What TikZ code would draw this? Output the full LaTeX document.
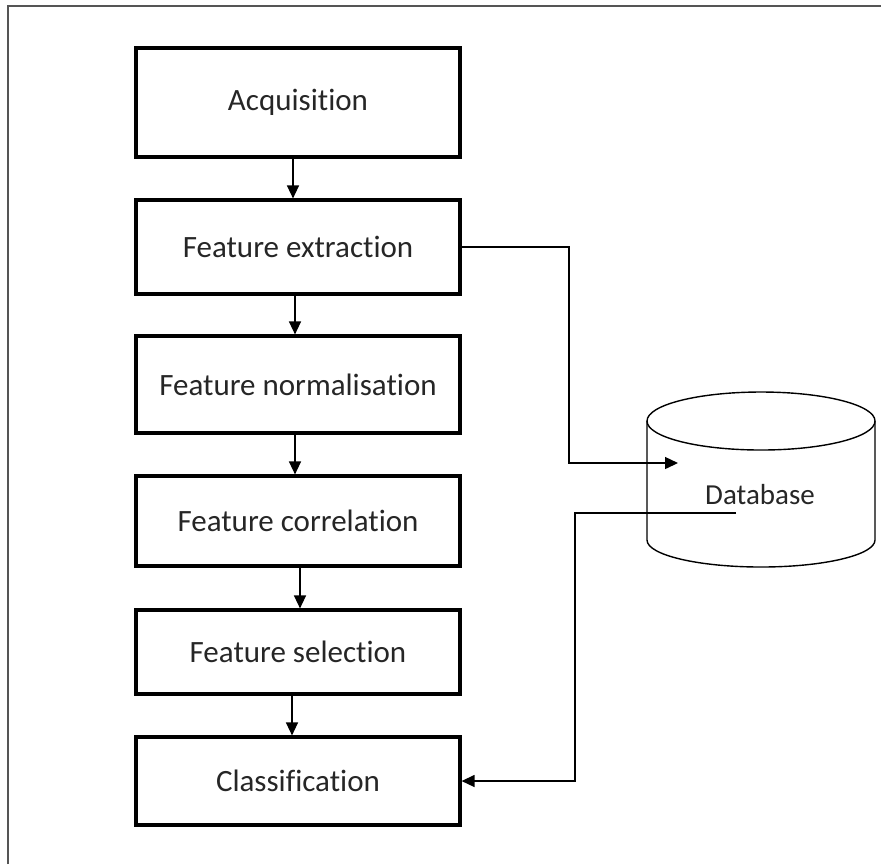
\documentclass[tikz,border=0pt]{standalone}
\usepackage{fontspec}
\setmainfont{Carlito}[Ligatures=NoCommon]
\usetikzlibrary{arrows.meta}
\definecolor{txt}{HTML}{262626}
\definecolor{framegray}{HTML}{555555}
\tikzset{
  stagebox/.style={draw=black, line width=1.6pt, minimum width=162pt, inner sep=0pt, font=\fontsize{15.5}{18}\selectfont, text=txt},
  stagetext/.style={yshift=-1.5pt},
  arr/.style={line width=0.7pt, -{Triangle[length=6.5pt,width=6pt]}},
  thin line/.style={line width=0.7pt}
}
\begin{document}
\begin{tikzpicture}[x=0.5pt,y=-0.5pt]
\useasboundingbox (0,0) rectangle (881,864);
% frame
\draw[framegray, line width=1pt] (8,864) -- (8,6) -- (881,6);
% stages
\node[stagebox, minimum height=54.5pt] (acq) at (298,102.5) {\raisebox{-1.5pt}{Acquisition}};
\node[stagebox, minimum height=47pt] (ext) at (298,247) {\raisebox{-1.5pt}{Feature extraction}};
\node[stagebox, minimum height=48.5pt] (nrm) at (298,384.5) {\raisebox{-1.5pt}{Feature normalisation}};
\node[stagebox, minimum height=45pt] (cor) at (298,521) {\raisebox{-1.5pt}{Feature correlation}};
\node[stagebox, minimum height=42pt] (sel) at (298,652) {\raisebox{-1.5pt}{Feature selection}};
\node[stagebox, minimum height=44pt] (cls) at (298,781) {\raisebox{-1.5pt}{Classification}};
% vertical arrows
\draw[arr] ([xshift=-2.5pt]acq.south) -- ([xshift=-2.5pt]ext.north);
\draw[arr] ([xshift=-1.5pt]ext.south) -- ([xshift=-1.5pt]nrm.north);
\draw[arr] ([xshift=-1.5pt]nrm.south) -- ([xshift=-1.5pt]cor.north);
\draw[arr] ([xshift=1pt]cor.south) -- ([xshift=1pt]sel.north);
\draw[arr] ([xshift=-3pt]sel.south) -- ([xshift=-3pt]cls.north);
% database cylinder
\draw[thin line] (761,421) ellipse [x radius=57pt, y radius=14.5pt];
\draw[thin line] (647,421) -- (647,540) arc[start angle=180, end angle=360, x radius=57pt, y radius=13.5pt] -- (875,421);
\node[font=\fontsize{14.5}{17}\selectfont, text=txt, inner sep=0pt] (db) at (760,495) {Database};
% connectors to/from database
\coordinate (dbin) at (678,463);
\coordinate (bend1) at (569,463);
\coordinate (dbout) at (736,513);
\coordinate (bend2) at (575,513);
\draw[arr] (ext.east) -| (bend1) -- (dbin);
\draw[arr] (dbout) -- (bend2) |- (cls.east);
\end{tikzpicture}
\end{document}
